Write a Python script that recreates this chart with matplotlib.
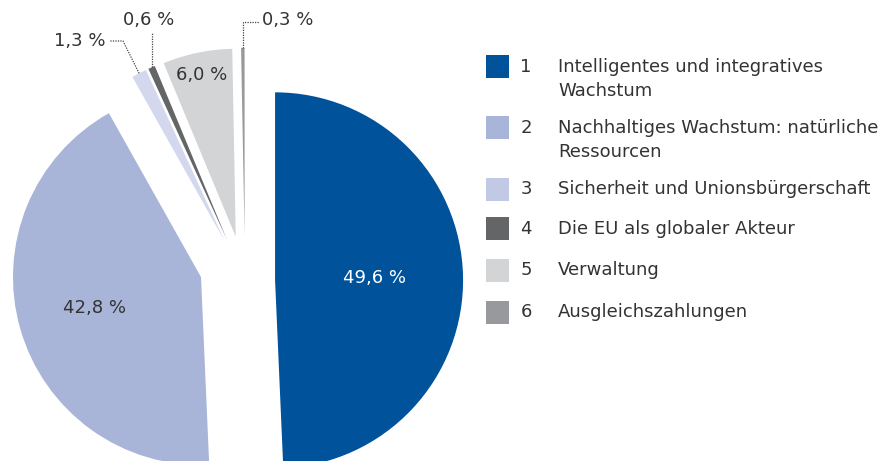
import matplotlib
matplotlib.use("Agg")
import matplotlib.pyplot as plt
from matplotlib.patches import Rectangle
import numpy as np

# ---- data ----
numbers = ["1", "2", "3", "4", "5", "6"]
legend_lines = [
    ["Intelligentes und integratives", "Wachstum"],
    ["Nachhaltiges Wachstum: natürliche", "Ressourcen"],
    ["Sicherheit und Unionsbürgerschaft"],
    ["Die EU als globaler Akteur"],
    ["Verwaltung"],
    ["Ausgleichszahlungen"],
]
values = [49.6, 42.8, 1.3, 0.6, 6.0, 0.3]
value_labels = ["49,6 %", "42,8 %", "1,3 %", "0,6 %", "6,0 %", "0,3 %"]
colors = ["#00529B", "#A8B4D8", "#D3D8EE", "#646567", "#D3D4D6", "#98999C"]
legend_colors = ["#00529B", "#A8B4D8", "#C2C9E5", "#646567", "#D3D4D6", "#98999C"]
explode = [0.16, 0.234, 0.24, 0.24, 0.24, 0.24]

W, H = 880, 461
R_PX = 188.0
CX, CY = 245.0, 281.0  # pie centre in pixels (from top-left)
FONT = "DejaVu Sans"
TXT = "#333333"
FS = 13

fig = plt.figure(figsize=(W / 100, H / 100), dpi=100)
ax = fig.add_axes([0, 0, 1, 1])

wedges, _ = ax.pie(values, colors=colors, explode=explode, startangle=90,
                   counterclock=False, radius=1.0,
                   wedgeprops=dict(linewidth=0))

# slice 2 sits horizontally left of slice 1 in the original
c = wedges[1].center
wedges[1].set_center((c[0] - 0.009, c[1] + 0.085))

ax.set_xlim(-CX / R_PX, (W - CX) / R_PX)
ax.set_ylim(-(H - CY) / R_PX, CY / R_PX)
ax.set_aspect("auto")
ax.axis("off")


def px2d(px, py):
    return ((px - CX) / R_PX, (CY - py) / R_PX)


def mid_point(w, r):
    mid = np.deg2rad((w.theta1 + w.theta2) / 2)
    cx, cy = w.center
    return cx + r * np.cos(mid), cy + r * np.sin(mid)


# inner labels
inner = {0: (0.53, "white"), 1: (0.59, TXT), 4: (0.88, TXT)}
for i, (r, col) in inner.items():
    x, y = mid_point(wedges[i], r)
    ax.text(x, y, value_labels[i], ha="center", va="center", color=col,
            fontsize=FS, family=FONT)

# outer labels with dotted leaders
lk = dict(color="#444444", linestyle=(0, (1, 1)), linewidth=0.9)
# 1,3 %
ax_, ay_ = mid_point(wedges[2], 1.0)
e = px2d(123, 41)
t = px2d(110, 41)
ax.plot([ax_, e[0], t[0]], [ay_, e[1], t[1]], **lk)
tp = px2d(106, 41)
ax.text(tp[0], tp[1], value_labels[2], ha="right", va="center", color=TXT,
        fontsize=FS, family=FONT)
# 0,6 %
ax_, ay_ = mid_point(wedges[3], 1.0)
e = px2d(0, 32)
ax.plot([ax_, ax_], [ay_, e[1]], **lk)
tp = px2d(0, 20)
ax.text(ax_ - 0.015, tp[1], value_labels[3], ha="center", va="center",
        color=TXT, fontsize=FS, family=FONT)
# 0,3 %
ax_, ay_ = mid_point(wedges[5], 1.0)
e = px2d(0, 22)
t = px2d(259, 22)
ax.plot([ax_, ax_, t[0]], [ay_, e[1], e[1]], **lk)
tp = px2d(262, 20)
ax.text(tp[0], tp[1], value_labels[5], ha="left", va="center", color=TXT,
        fontsize=FS, family=FONT)

# legend (manual, in figure pixels)
def fx(px):
    return px / W


def fy(py):
    return 1 - py / H


row_y = [67, 128, 189, 229, 270, 312]
for i in range(6):
    yc = row_y[i]
    fig.patches.append(Rectangle((fx(486), fy(yc + 11.5)), 23 / W, 23 / H,
                                 transform=fig.transFigure,
                                 facecolor=legend_colors[i], edgecolor="none"))
    fig.text(fx(526), fy(yc), numbers[i], ha="center", va="center",
             color=TXT, fontsize=FS, family=FONT)
    for j, line in enumerate(legend_lines[i]):
        fig.text(fx(558), fy(yc + 24 * j), line, ha="left", va="center",
                 color=TXT, fontsize=FS, family=FONT)

fig.savefig("out.png", dpi=100, facecolor="white")
